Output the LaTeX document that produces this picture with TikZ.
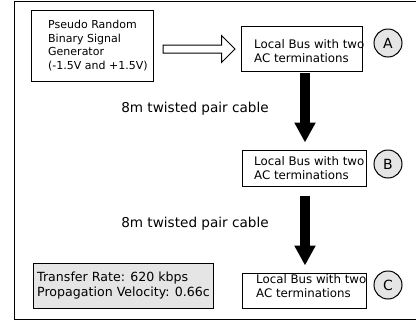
\documentclass[tikz,border=0pt]{standalone}
\usepackage{fontspec}
\setmainfont{DejaVu Sans}
\usetikzlibrary{shapes.arrows,arrows.meta}
\newlength{\du}
\setlength{\du}{1pt}
\definecolor{dialinecolor}{rgb}{0.000000, 0.000000, 0.000000}
\definecolor{dialinefill}{rgb}{0.900000, 0.900000, 0.900000}
\tikzset{
  blockbox/.style={draw=dialinecolor, line width=1\du, inner sep=0pt},
  bustext/.style={anchor=west, align=left, inner sep=0pt, font=\fontsize{11.8}{14.5}\selectfont},
  tag/.style={circle, draw=dialinecolor, fill=dialinefill, line width=1\du, minimum size=28\du, inner sep=0pt, font=\fontsize{14}{14}\selectfont},
  cable/.style={line width=10\du, -{Triangle[length=20pt, width=20pt]}},
  cablelabel/.style={inner sep=0pt, font=\fontsize{13.6}{16}\selectfont}
}
\begin{document}
\begin{tikzpicture}[x=1\du, y=-1\du]
\useasboundingbox (0,0) rectangle (416,322);
% frame
\draw[line width=1\du, dialinecolor] (14,1) rectangle (430,319);
% signal generator
\node[blockbox, minimum width=122\du, minimum height=71\du] (gen) at (92,45.5) {};
\node[anchor=west, align=left, inner sep=0pt, font=\fontsize{11}{13.5}\selectfont] (gentext) at (48,45.5) {Pseudo Random\\Binary Signal\\Generator\\(-1.5V and +1.5V)};
% local buses
\node[blockbox, minimum width=121\du, minimum height=45\du] (busA) at (301.5,48.5) {};
\node[bustext] (busAtext) at (254,51) {Local Bus with two\\AC terminations};
\node[blockbox, minimum width=124\du, minimum height=36\du] (busB) at (304,168) {};
\node[bustext] (busBtext) at (254,168) {Local Bus with two\\AC terminations};
\node[blockbox, minimum width=124\du, minimum height=35\du] (busC) at (304,290.5) {};
\node[bustext] (busCtext) at (256,286) {Local Bus with two\\AC terminations};
% tags
\node[tag] (tagA) at (388,43) {A};
\node[tag] (tagB) at (388,164) {B};
\node[tag] (tagC) at (388,285) {C};
% hollow arrow
\path (gen.east) -- (busA.west) node[midway, yshift=-2pt, single arrow, draw=dialinecolor, line width=1\du, inner sep=3.5pt, minimum height=72pt, single arrow head extend=9.5pt, single arrow head indent=0pt] (feed) {};
% cables
\draw[cable] ([xshift=3.5pt, yshift=-1pt]busA.south) -- ([xshift=1pt, yshift=7pt]busB.north);
\node[cablelabel] (cableAB) at (195,109) {8m twisted pair cable};
\draw[cable] ([xshift=1pt, yshift=-9pt]busB.south) -- ([xshift=1pt, yshift=7pt]busC.north);
\node[cablelabel] (cableBC) at (195,224) {8m twisted pair cable};
% parameters
\node[blockbox, fill=dialinefill, minimum width=180\du, minimum height=45\du] (params) at (123,285.5) {};
\node[anchor=west, align=left, inner sep=0pt, font=\fontsize{12.6}{15}\selectfont] (paramtext) at (37,285.5) {Transfer Rate: 620 kbps\\Propagation Velocity: 0.66c};
\end{tikzpicture}
\end{document}
